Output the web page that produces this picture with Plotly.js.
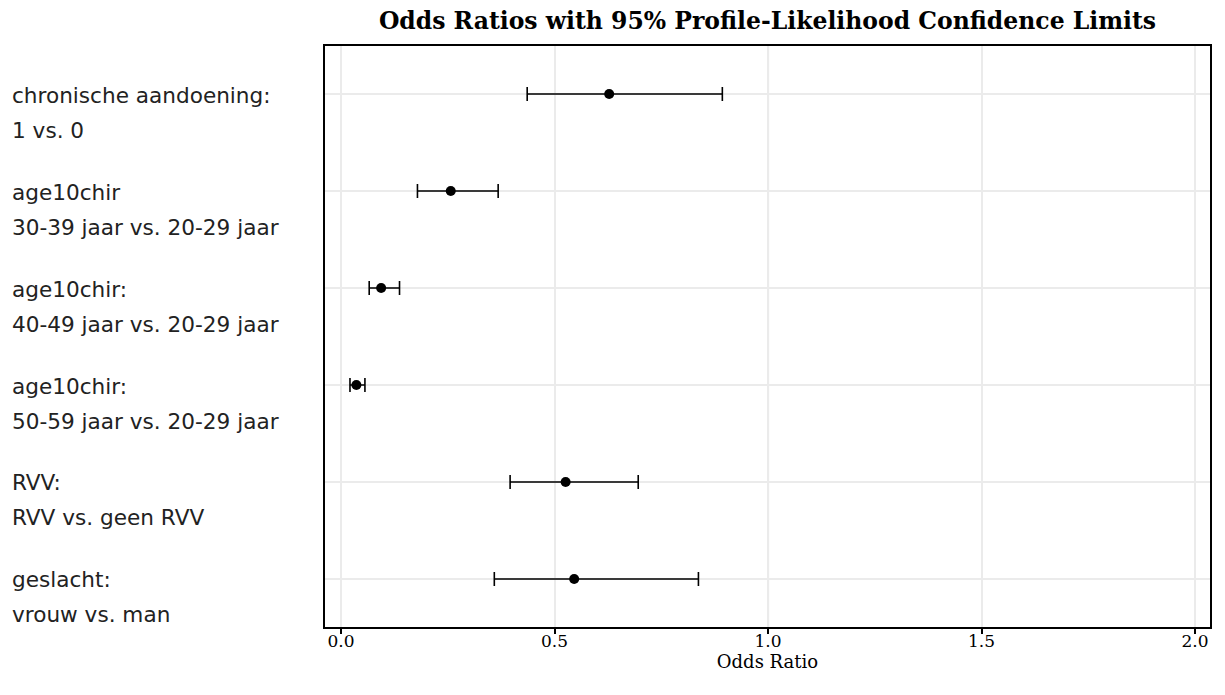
<!DOCTYPE html>
<html>
<head>
<meta charset="utf-8">
<script src="https://cdn.plot.ly/plotly-3.0.1.min.js"></script>
<style>
html, body { margin: 0; padding: 0; background: #fff; }
#chart { width: 1225px; height: 695px; }
</style>
</head>
<body>
<div id="chart"></div>
<script>
// Data
const labelLine1 = ["chronische aandoening:", "age10chir", "age10chir:", "age10chir:", "RVV:", "geslacht:"];
const labelLine2 = ["1 vs. 0", "30-39 jaar vs. 20-29 jaar", "40-49 jaar vs. 20-29 jaar", "50-59 jaar vs. 20-29 jaar", "RVV vs. geen RVV", "vrouw vs. man"];
const oddsRatio = [0.628, 0.257, 0.094, 0.036, 0.526, 0.546];
const lowerCL   = [0.436, 0.179, 0.066, 0.021, 0.396, 0.359];
const upperCL   = [0.893, 0.368, 0.137, 0.056, 0.696, 0.837];
const xTickVals = [0.0, 0.5, 1.0, 1.5, 2.0];
const xTickText = ["0.0", "0.5", "1.0", "1.5", "2.0"];

const cats = labelLine1.map((l, i) => l + " " + labelLine2[i]);

const trace = {
  type: "scatter",
  mode: "markers",
  x: oddsRatio,
  y: cats,
  marker: { color: "#000", size: 10, symbol: "circle" },
  error_x: {
    type: "data",
    symmetric: false,
    array: upperCL.map((u, i) => u - oddsRatio[i]),
    arrayminus: oddsRatio.map((o, i) => o - lowerCL[i]),
    color: "#000",
    thickness: 1.6,
    width: 7
  },
  hoverinfo: "x+y",
  showlegend: false
};

const serif = "DejaVu Serif, Liberation Serif, serif";
const sans = "DejaVu Sans, Verdana, sans-serif";

const annotations = [];
cats.forEach((c, i) => {
  annotations.push({
    xref: "paper", yref: "y", x: -0.3560, y: c, xanchor: "left", yanchor: "middle",
    yshift: -1,
    text: labelLine1[i], showarrow: false,
    font: { family: sans, size: 21.6, color: "#222" }
  });
  annotations.push({
    xref: "paper", yref: "y", x: -0.3560, y: c, xanchor: "left", yanchor: "middle",
    yshift: -36,
    text: labelLine2[i], showarrow: false,
    font: { family: sans, size: 21.6, color: "#222" }
  });
});

const layout = {
  width: 1225, height: 695,
  margin: { l: 325, r: 15, t: 46, b: 68, pad: 0 },
  paper_bgcolor: "#fff", plot_bgcolor: "#fff",
  title: {
    text: "<b>Odds Ratios with 95% Profile-Likelihood Confidence Limits</b>",
    x: 0.5, xref: "paper", xanchor: "center",
    y: 1, yref: "container", yanchor: "top", pad: { t: 13 },
    font: { family: serif, size: 23.5, color: "#000" }
  },
  xaxis: {
    range: [-0.0375, 2.035],
    tickvals: xTickVals, ticktext: xTickText,
    ticks: "outside", ticklen: 5, tickwidth: 1.5, tickcolor: "#000",
    ticklabelstandoff: -7,
    showgrid: true, gridcolor: "#ebebeb", gridwidth: 1.5,
    zeroline: false,
    showline: true, linecolor: "#000", linewidth: 2, mirror: true,
    tickfont: { family: serif, size: 17, color: "#000" },
    title: { text: "Odds Ratio", standoff: 2,
      font: { family: serif, size: 18, color: "#000" } }
  },
  yaxis: {
    type: "category",
    categoryorder: "array", categoryarray: cats,
    range: [5.495, -0.495],
    showticklabels: false, ticks: "",
    showgrid: true, gridcolor: "#ebebeb", gridwidth: 1.5,
    zeroline: false,
    showline: true, linecolor: "#000", linewidth: 2, mirror: true
  },
  shapes: [{
    type: "line", xref: "x", yref: "paper", x0: 1, x1: 1, y0: 0, y1: 1,
    line: { color: "#808080", width: 2 }, layer: "below"
  }],
  annotations: annotations
};

Plotly.newPlot("chart", [trace], layout, { displayModeBar: false });
</script>
</body>
</html>
